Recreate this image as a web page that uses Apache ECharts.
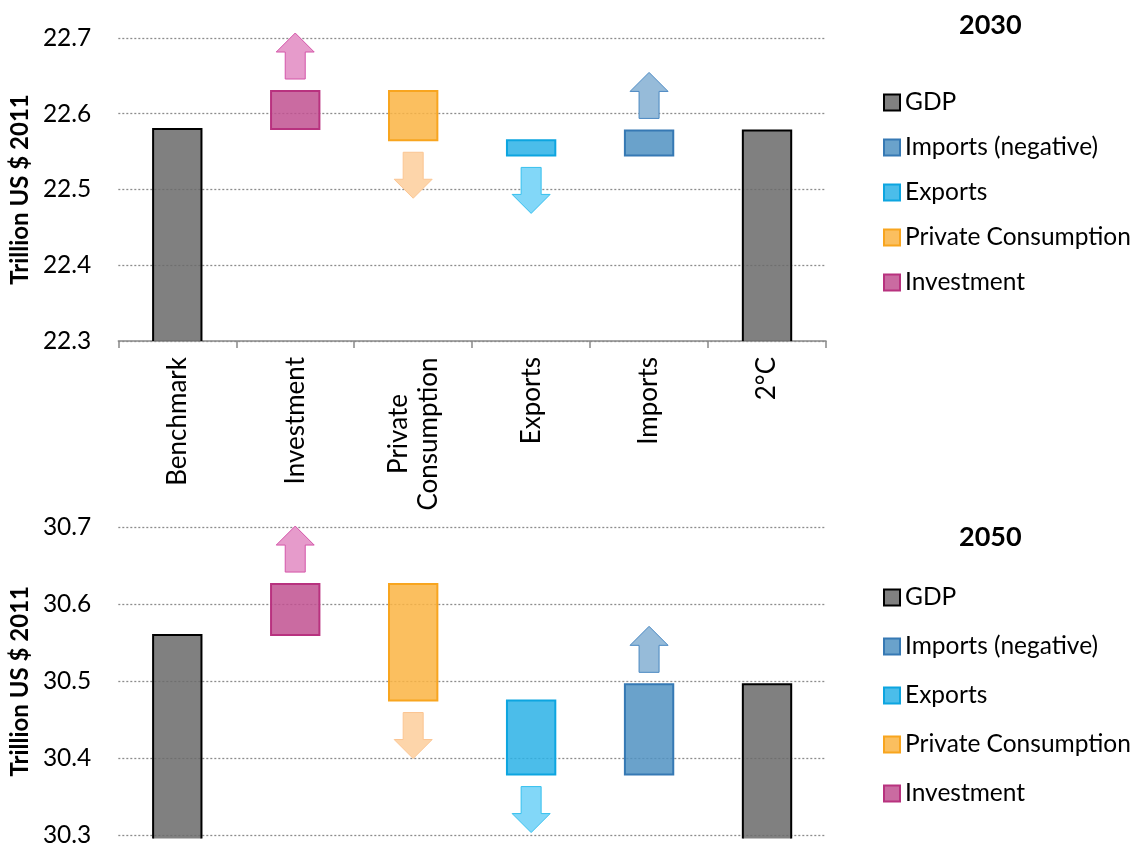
<!DOCTYPE html>
<html>
<head>
<meta charset="utf-8">
<script src="https://cdn.jsdelivr.net/npm/echarts@6/dist/echarts.min.js"></script>
<style>
  html, body { margin: 0; padding: 0; background: #fff; }
  #wrap { width: 1138px; height: 848px; overflow: hidden; }
  #main { width: 1138px; height: 848px; }
</style>
</head>
<body>
<div id="wrap"><div id="main"></div></div>
<script>
// categories on the x axis
var categories = ['Benchmark', 'Investment', 'Private Consumption', 'Exports', 'Imports', '2°C'];
// legend / series names, in legend order
var legendNames = ['GDP', 'Imports (negative)', 'Exports', 'Private Consumption', 'Investment'];
// names of the four steps, in the order of the categories 1..4
var stepNames = ['Investment', 'Private Consumption', 'Exports', 'Imports (negative)'];

// 2030: GDP (Benchmark, 2°C) and running level after each step
var gdp2030 = [22.58, 22.578];
var levels2030 = [22.58, 22.63, 22.565, 22.545, 22.578];
// 2050
var gdp2050 = [30.56, 30.496];
var levels2050 = [30.56, 30.626, 30.475, 30.379, 30.496];

var yTicks2030 = [22.3, 22.7, 0.1];
var yTicks2050 = [30.3, 30.7, 0.1];

var FONT = 'Lato';

var colors = {
  'GDP': { fill: '#808080', stroke: '#000000' },
  'Investment': { fill: '#CA6BA1', stroke: '#B8327F', afill: '#E69BCB', astroke: '#D455A9' },
  'Private Consumption': { fill: '#FBBF5F', stroke: '#F8A51F', afill: '#FDD5AA', astroke: '#FBC592' },
  'Exports': { fill: '#4BBDEA', stroke: '#0DA5E0', afill: '#82D7F8', astroke: '#36C0EE' },
  'Imports (negative)': { fill: '#6AA2CB', stroke: '#3679B4', afill: '#96BBD9', astroke: '#4A88C2' }
};

// colour that shows as hex over white at opacity a (so gridlines show through)
function tint(hex, a) {
  var n = parseInt(hex.slice(1), 16);
  var c = [(n >> 16) & 255, (n >> 8) & 255, n & 255].map(function (v) {
    return Math.max(0, Math.round((v - 255 * (1 - a)) / a));
  });
  return 'rgba(' + c.join(',') + ',' + a + ')';
}

function renderGdp(ext) {
  return function (params, api) {
    var p = api.coord([api.value(0), api.value(1)]);
    var cs = params.coordSys;
    var bw = api.size([1, 0])[0] * 0.41;
    var x0 = p[0] - bw / 2, x1 = p[0] + bw / 2;
    var yTop = p[1], yBot = cs.y + cs.height + ext;
    return {
      type: 'group',
      children: [
        { type: 'rect', shape: { x: x0, y: yTop, width: bw, height: yBot - yTop },
          style: { fill: tint(colors.GDP.fill, 0.85) } },
        { type: 'polyline', shape: { points: [[x0, yBot], [x0, yTop], [x1, yTop], [x1, yBot]] },
          style: { stroke: colors.GDP.stroke, lineWidth: 2, fill: null } }
      ]
    };
  };
}

function renderStep(name) {
  var c = colors[name];
  return function (params, api) {
    var v0 = api.value(1), v1 = api.value(2);
    var p0 = api.coord([api.value(0), v0]);
    var p1 = api.coord([api.value(0), v1]);
    var bw = api.size([1, 0])[0] * 0.41;
    var cx = p0[0];
    var top = Math.min(p0[1], p1[1]), bot = Math.max(p0[1], p1[1]);
    var up = v1 > v0;
    var gap = 12, len = 46, head = 19, hw = 19, sw = 10;
    var s = up ? -1 : 1;
    var base = up ? top - gap : bot + gap;
    var neck = base + s * (len - head), tip = base + s * len;
    var pts = [[cx - sw, base], [cx - sw, neck], [cx - hw, neck], [cx, tip],
               [cx + hw, neck], [cx + sw, neck], [cx + sw, base]];
    return {
      type: 'group',
      children: [
        { type: 'rect', shape: { x: cx - bw / 2, y: top, width: bw, height: bot - top },
          style: { fill: tint(c.fill, 0.85), stroke: c.stroke, lineWidth: 2 } },
        { type: 'polygon', shape: { points: pts },
          style: { fill: c.afill, stroke: c.astroke, lineWidth: 1 } }
      ]
    };
  };
}

function buildSeries(idx, gdp, levels, ext) {
  var list = [{
    name: 'GDP', type: 'custom', xAxisIndex: idx, yAxisIndex: idx,
    renderItem: renderGdp(ext), clip: false,
    itemStyle: { color: colors.GDP.fill },
    encode: { x: 0, y: 1 },
    data: [[0, gdp[0]], [5, gdp[1]]]
  }];
  stepNames.forEach(function (nm, k) {
    list.push({
      name: nm, type: 'custom', xAxisIndex: idx, yAxisIndex: idx,
      renderItem: renderStep(nm), clip: false,
      itemStyle: { color: colors[nm].fill },
      encode: { x: 0, y: [1, 2] },
      data: [[k + 1, levels[k], levels[k + 1]]]
    });
  });
  return list;
}

var XFS = 26;   // x label size
var LFS = 24.5; // legend / tick size

// width of the longer line, to centre the two-line label
var ctx = document.createElement('canvas').getContext('2d');
ctx.font = XFS + 'px ' + FONT;
var consW = Math.ceil(ctx.measureText('Consumption').width);

function legendData() {
  return legendNames.map(function (nm) {
    return { name: nm, itemStyle: { color: colors[nm].fill, borderColor: colors[nm].stroke, borderWidth: 2 } };
  });
}

var gridLine = { show: true, lineStyle: { type: [2, 2], color: '#8c8c8c', width: 1.3 } };

function yAxis(idx, ticks) {
  return {
    gridIndex: idx, type: 'value',
    min: ticks[0], max: ticks[1], interval: ticks[2],
    axisLine: { show: false }, axisTick: { show: false },
    splitLine: gridLine,
    axisLabel: { fontSize: LFS, color: '#000', fontFamily: FONT, margin: 27,
      formatter: function (v) { return v.toFixed(1); } },
    name: 'Trillion US $ 2011', nameLocation: 'middle', nameGap: 84,
    nameTextStyle: { fontSize: 24, fontWeight: 'bold', color: '#000', fontFamily: FONT }
  };
}

var myChart = echarts.init(document.getElementById('main'));
var option = {
  animation: false,
  textStyle: { fontFamily: FONT },
  title: [
    { text: '2030', left: 959, top: 12, padding: 0,
      textStyle: { fontSize: 27, fontWeight: 'bold', color: '#000', fontFamily: FONT } },
    { text: '2050', left: 959, top: 524, padding: 0,
      textStyle: { fontSize: 27, fontWeight: 'bold', color: '#000', fontFamily: FONT } }
  ],
  legend: [
    { orient: 'vertical', left: 883, top: 90, padding: 0, itemWidth: 16, itemHeight: 16, itemGap: 20,
      icon: 'rect', textStyle: { fontSize: LFS, color: '#000', fontFamily: FONT }, data: legendData() },
    { orient: 'vertical', left: 883, top: 585, padding: 0, itemWidth: 16, itemHeight: 16, itemGap: 24,
      icon: 'rect', textStyle: { fontSize: LFS, color: '#000', fontFamily: FONT }, data: legendData() }
  ],
  grid: [
    { left: 118, top: 38, width: 708, height: 303 },
    { left: 118, top: 527, width: 708, height: 311 }
  ],
  xAxis: [
    { gridIndex: 0, type: 'category', data: categories,
      axisLine: { lineStyle: { color: '#898989', width: 1.5 } },
      axisTick: { show: true, length: 7, lineStyle: { color: '#898989', width: 1.5 } },
      axisLabel: { rotate: 90, fontSize: XFS, color: '#000', fontFamily: FONT, margin: 16,
        formatter: function (v) {
          return v === 'Private Consumption' ? '{c|Private}\n{c|Consumption}' : v;
        },
        rich: { c: { width: consW, align: 'center', fontSize: XFS, lineHeight: 30, color: '#000', fontFamily: FONT } }
      } },
    { gridIndex: 1, type: 'category', data: categories, show: false }
  ],
  yAxis: [yAxis(0, yTicks2030), yAxis(1, yTicks2050)],
  series: buildSeries(0, gdp2030, levels2030, 0).concat(buildSeries(1, gdp2050, levels2050, 3))
};
myChart.setOption(option);
</script>
</body>
</html>
